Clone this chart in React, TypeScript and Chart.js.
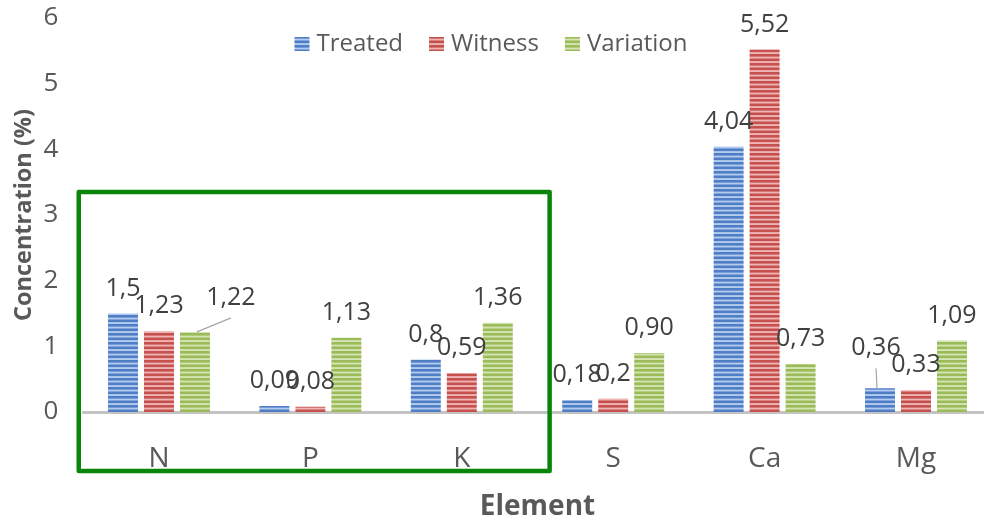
import React, { useEffect, useRef } from 'react';
import { Chart, registerables } from 'chart.js';

Chart.register(...registerables);

// ---- data ----
const categories = ['N', 'P', 'K', 'S', 'Ca', 'Mg'];
const seriesNames = ['Treated', 'Witness', 'Variation'];
const treated = [1.5, 0.09, 0.8, 0.18, 4.04, 0.36];
const witness = [1.23, 0.08, 0.59, 0.2, 5.52, 0.33];
const variation = [1.22, 1.13, 1.36, 0.9, 0.73, 1.09];
const yMin = 0;
const yMax = 6;
const yStep = 1;
const xTitle = 'Element';
const yTitle = 'Concentration (%)';
// decimals forced per series (null = as typed)
const labelDecimals = [null, null, 2];

// ---- styles ----
const DARK = ['#4f7ec6', '#c6504e', '#9bbb59'];
const LIGHT = ['#b3cbee', '#eeb4b3', '#d4e4b4'];
const TEXT = '#595959';
const LABEL_TEXT = '#404040';
const FONT = "'Open Sans', 'DejaVu Sans', sans-serif";

// label nudges (relative to default placement), with leader lines
const LABEL_NUDGES: Record<string, { dx: number; dy: number; sx: number }> = {
  '2-0': { dx: 36, dy: -9, sx: 2 },
  '0-5': { dx: -4, dy: -15, sx: -3 },
};

function makePattern(dark: string, light: string): CanvasPattern | string {
  const c = document.createElement('canvas');
  c.width = 8;
  c.height = 9;
  const g = c.getContext('2d');
  if (!g) return dark;
  g.fillStyle = light;
  g.fillRect(0, 0, 8, 9);
  g.fillStyle = dark;
  g.fillRect(0, 0, 8, 2.6);
  g.fillRect(0, 4.5, 8, 2.6);
  const p = g.createPattern(c, 'repeat');
  return p || dark;
}

function fmt(v: number, ds: number): string {
  const d = labelDecimals[ds];
  const s = d == null ? String(v) : v.toFixed(d);
  return s.replace('.', ',');
}

const dataLabelPlugin = {
  id: 'dataLabels',
  afterDatasetsDraw(chart: any) {
    const ctx = chart.ctx;
    ctx.save();
    ctx.font = `25px ${FONT}`;
    ctx.fillStyle = LABEL_TEXT;
    ctx.textAlign = 'center';
    ctx.textBaseline = 'middle';
    chart.data.datasets.forEach((ds: any, di: number) => {
      const meta = chart.getDatasetMeta(di);
      meta.data.forEach((bar: any, i: number) => {
        const v = ds.data[i];
        let lx = bar.x;
        let ly = bar.y - 25;
        const n = LABEL_NUDGES[`${di}-${i}`];
        if (n) {
          lx += n.dx;
          ly += n.dy;
          ctx.save();
          ctx.strokeStyle = '#a6a6a6';
          ctx.lineWidth = 1.2;
          ctx.beginPath();
          ctx.moveTo(bar.x + n.sx, bar.y);
          ctx.lineTo(lx, ly + 20);
          ctx.stroke();
          ctx.restore();
        }
        ctx.fillText(fmt(v, di), lx, ly);
      });
    });
    ctx.restore();
  },
};

const legendPlugin = {
  id: 'customLegend',
  afterDraw(chart: any) {
    const ctx = chart.ctx;
    ctx.save();
    ctx.font = `24px ${FONT}`;
    ctx.textBaseline = 'middle';
    ctx.textAlign = 'left';
    const boxW = 15;
    const boxH = 14;
    const gapText = 7;
    const itemGap = 26;
    const items = chart.data.datasets.map((ds: any) => ({
      label: ds.label,
      fill: ds.backgroundColor,
      w: ctx.measureText(ds.label).width,
    }));
    const total =
      items.reduce((a: number, it: any) => a + boxW + gapText + it.w, 0) + itemGap * (items.length - 1);
    const cx = 491;
    const cy = 44;
    let x = cx - total / 2;
    items.forEach((it: any) => {
      ctx.fillStyle = it.fill;
      ctx.fillRect(x, cy - boxH / 2, boxW, boxH);
      ctx.fillStyle = TEXT;
      ctx.fillText(it.label, x + boxW + gapText, cy);
      x += boxW + gapText + it.w + itemGap;
    });
    ctx.restore();
  },
};

const highlightPlugin = {
  id: 'highlightBox',
  afterDraw(chart: any) {
    const xs = chart.scales.x;
    const ys = chart.scales.y;
    const l = xs.getPixelForValue(-0.53);
    const r = xs.getPixelForValue(2.58);
    const t = ys.getPixelForValue(3.35);
    const b = ys.getPixelForValue(-0.9);
    const ctx = chart.ctx;
    ctx.save();
    ctx.strokeStyle = '#098609';
    ctx.lineWidth = 4.5;
    ctx.lineJoin = 'round';
    ctx.strokeRect(l, t, r - l, b - t);
    ctx.restore();
  },
};

export default function App() {
  const ref = useRef<HTMLCanvasElement | null>(null);

  useEffect(() => {
    if (!ref.current) return;
    const series = [treated, witness, variation];
    const chart = new Chart(ref.current, {
      type: 'bar',
      data: {
        labels: categories,
        datasets: series.map((d, i) => ({
          label: seriesNames[i],
          data: d,
          backgroundColor: makePattern(DARK[i], LIGHT[i]) as any,
          borderWidth: 0,
          categoryPercentage: 0.713,
          barPercentage: 0.833,
        })),
      },
      options: {
        responsive: true,
        maintainAspectRatio: false,
        animation: false,
        layout: { padding: { top: 18, right: 8.3, left: 0, bottom: 0 } },
        plugins: {
          legend: { display: false },
          tooltip: { enabled: false },
        },
        scales: {
          x: {
            grid: { display: false, drawTicks: false },
            border: { display: true, color: '#c3c3c3', width: 3 },
            ticks: { color: TEXT, font: { family: FONT, size: 28 }, padding: 30 },
            title: {
              display: true,
              text: xTitle,
              color: TEXT,
              font: { family: FONT, size: 28, weight: 'bold' },
              padding: { top: 0, bottom: -4 },
            },
            afterFit: (s: any) => {
              s.height = 108;
              s.paddingLeft = 0;
              s.paddingRight = 0;
            },
          },
          y: {
            min: yMin,
            max: yMax,
            grid: { display: false, drawTicks: false },
            border: { display: false },
            ticks: { stepSize: yStep, color: TEXT, font: { family: FONT, size: 26 }, padding: 25 },
            title: {
              display: true,
              text: yTitle,
              color: TEXT,
              font: { family: FONT, size: 23.5, weight: 'bold' },
              padding: { top: 10, bottom: 0 },
            },
            afterFit: (s: any) => {
              s.width = 83.3;
              s.paddingTop = 0;
              s.paddingBottom = 0;
            },
          },
        },
      },
      plugins: [dataLabelPlugin, legendPlugin, highlightPlugin],
    });
    return () => chart.destroy();
  }, []);

  return (
    <div style={{ position: 'fixed', left: 0, top: 0, width: 984, height: 520, overflow: 'hidden', background: '#fff' }}>
      <div style={{ position: 'absolute', left: 0, top: 0, width: 1000, height: 520 }}>
        <canvas ref={ref} />
      </div>
    </div>
  );
}
